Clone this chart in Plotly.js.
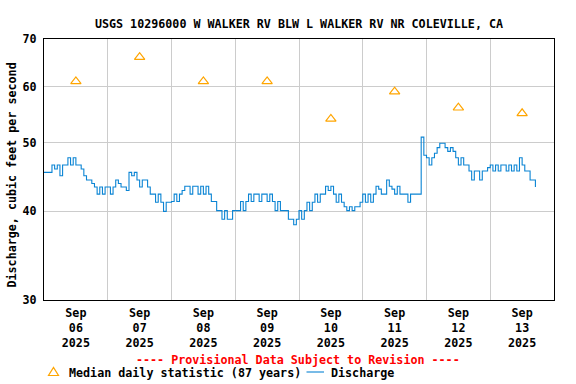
<!DOCTYPE html>
<html>
<head>
<meta charset="utf-8">
<script src="https://cdn.plot.ly/plotly-3.0.1.min.js"></script>
<style>html,body{margin:0;padding:0;background:#fff;}#chart{width:576px;height:384px;}</style>
</head>
<body>
<div id="chart"></div>
<script>
// ---- Data ----
const dayStarts = ['2025-09-06','2025-09-07','2025-09-08','2025-09-09','2025-09-10','2025-09-11','2025-09-12','2025-09-13'];
const gridDays = ['2025-09-07','2025-09-08','2025-09-09','2025-09-10','2025-09-11','2025-09-12','2025-09-13'];
const tickMonth = 'Sep';
const tickDayLabels = ['06','07','08','09','10','11','12','13'];
const tickYear = '2025';

// Hourly discharge, cubic feet per second (one array per day, starting 00:00)
const flowSep06 = [45.4,45.4,45.4,46.5,45.9,46.5,44.9,46.5,46.5,47.6,46.5,47.6,46.5,46.5,45.9,44.9,44.3,44.3,43.8,43.3,42.3,43.3,42.3,43.3];
const flowSep07 = [43.3,42.3,43.3,44.3,43.8,43.3,43.3,42.8,45.4,44.9,45.4,44.3,43.3,44.3,44.3,43.3,42.3,42.3,41.2,42.3,41.2,40.0,41.2,41.2];
const flowSep08 = [41.3,42.3,41.3,42.3,42.8,43.4,43.4,42.3,43.4,43.4,42.3,43.4,42.3,43.4,42.3,41.3,41.3,40.1,40.1,39.0,40.1,39.0,39.0,40.1];
const flowSep09 = [40.1,40.1,41.3,40.1,41.3,42.3,41.3,42.3,42.3,41.3,42.3,42.3,41.3,42.3,41.3,40.1,41.3,40.1,40.1,40.1,39.0,39.0,38.3,39.0];
const flowSep10 = [40.1,39.0,40.1,41.2,40.1,41.2,42.3,41.2,42.3,42.3,43.4,42.8,43.4,42.3,41.2,42.3,41.2,40.6,40.1,40.6,40.1,40.6,40.6,41.2];
const flowSep11 = [42.3,41.2,42.3,41.2,42.3,43.4,43.0,42.3,42.3,44.3,43.4,43.0,42.3,43.4,42.3,42.3,42.3,41.2,42.3,42.3,42.3,42.3,50.9,48.0];
const flowSep12 = [47.6,46.5,47.6,48.3,49.2,49.9,49.9,49.2,48.6,49.2,48.6,47.6,46.5,47.6,46.5,46.5,45.6,44.3,45.6,45.6,44.3,45.6,45.6,46.1];
const flowSep13 = [46.5,45.6,46.5,45.6,46.5,46.5,45.6,46.5,45.6,46.5,45.6,47.6,46.5,45.6,45.6,44.3,44.3,43.3];
const flowDays = [flowSep06,flowSep07,flowSep08,flowSep09,flowSep10,flowSep11,flowSep12,flowSep13];

// Median daily statistic (87 years)
const medianValues = [61,66,61,61,54,59,56,55];

// ---- Build traces ----
function pad(n){return (n<10?'0':'')+n;}
const flowX = [], flowY = [];
flowDays.forEach((arr,i)=>{
  arr.forEach((v,h)=>{ flowX.push(dayStarts[i]+' '+pad(h)+':00'); flowY.push(v); });
});
const medianX = dayStarts.map(d=>d+' 12:00');
const tickText = tickDayLabels.map(d=>tickMonth+'<br>'+d+'<br>'+tickYear);

const FONT = 'DejaVu Sans Mono, Liberation Mono, monospace';
const SZ = 11.7;
const blk = {family:FONT, size:SZ, color:'#000', weight:'bold'};
const BLUE = '#0a84d4', ORANGE = '#FFA500';

const traces = [
  {x:flowX, y:flowY, type:'scatter', mode:'lines', line:{color:BLUE, width:1.1, shape:'hv'}, name:'Discharge', hoverinfo:'skip'},
  {x:medianX, y:medianValues, type:'scatter', mode:'markers', marker:{symbol:'triangle-up-open', size:9, color:ORANGE, line:{width:1.2, color:ORANGE}}, name:'Median daily statistic (87 years)', hoverinfo:'skip'}
];

// plot area: left 44, right 554, top 39, bottom 300
const PL=44, PW=510, PB=300, PH=261;
const px = v => (v-PL)/PW;
const py = v => (PB-v)/PH;

const annotations = [
  {x:px(11.5), xref:'paper', y:py(175), yref:'paper', text:'Discharge, cubic feet per second', textangle:-90, showarrow:false, font:blk, xanchor:'center', yanchor:'middle'},
  {x:px(298), xref:'paper', y:py(359.5), yref:'paper', text:'---- Provisional Data Subject to Revision ----', showarrow:false, font:{family:FONT, size:SZ, color:'#FF0000', weight:'bold'}, xanchor:'center', yanchor:'middle'},
  {x:px(67), xref:'paper', y:py(373), yref:'paper', text:'Median daily statistic (87 years)', showarrow:false, font:blk, xanchor:'left', yanchor:'middle'},
  {x:px(329), xref:'paper', y:py(373), yref:'paper', text:'Discharge', showarrow:false, font:blk, xanchor:'left', yanchor:'middle'}
];

const shapes = [
  {type:'path', xref:'paper', yref:'paper',
   path:'M '+px(48.5)+' '+py(375.5)+' L '+px(58.5)+' '+py(375.5)+' L '+px(53.5)+' '+py(367.5)+' Z',
   line:{color:ORANGE, width:1.2}, fillcolor:'rgba(0,0,0,0)'},
  {type:'line', xref:'paper', yref:'paper', x0:px(306.5), x1:px(324), y0:py(372), y1:py(372), line:{color:BLUE, width:1.1}}
];

const layout = {
  width:576, height:384,
  margin:{l:44, r:22, t:39, b:84, pad:0},
  paper_bgcolor:'#ffffff', plot_bgcolor:'#ffffff',
  showlegend:false,
  title:{text:'USGS 10296000 W WALKER RV BLW L WALKER RV NR COLEVILLE, CA', font:blk, x:0.5, xref:'paper', xanchor:'center', y:1-23.5/384, yref:'container', yanchor:'middle'},
  xaxis:{type:'date', range:['2025-09-06 00:00','2025-09-14 00:00'], tickmode:'array', tickvals:medianX, ticktext:tickText, tickfont:blk,
         ticks:'', ticklabelstandoff:2, showgrid:false,
         minor:{tickmode:'array', tickvals:gridDays, showgrid:true, gridcolor:'#cccccc', gridwidth:1, ticks:''},
         showline:true, mirror:true, linecolor:'#000', linewidth:1, zeroline:false, fixedrange:true},
  yaxis:{type:'log', range:[Math.log10(30), Math.log10(70)], tickmode:'array', tickvals:[30,40,50,60,70], ticktext:['30','40','50','60','70'],
         ticks:'', ticklabelstandoff:4, tickfont:blk, showgrid:true, gridcolor:'#cccccc', gridwidth:1, showline:true, mirror:true, linecolor:'#000', linewidth:1, zeroline:false, fixedrange:true},
  annotations:annotations,
  shapes:shapes
};

Plotly.newPlot('chart', traces, layout, {staticPlot:true, displayModeBar:false});
</script>
</body>
</html>
